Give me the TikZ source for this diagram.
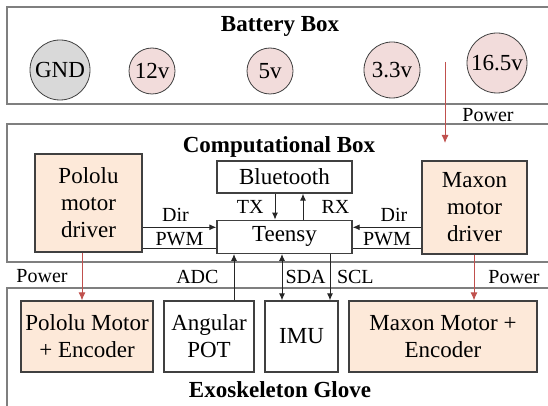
\documentclass[tikz,border=0pt]{standalone}
\usepackage{fontspec}
\setmainfont{Liberation Serif}
\usetikzlibrary{arrows.meta,positioning}
\definecolor{edgegray}{HTML}{404040}
\definecolor{framegray}{HTML}{7F7F7F}
\definecolor{peach}{HTML}{FDE9D9}
\definecolor{pinkpin}{HTML}{F2DCDB}
\definecolor{gndgray}{HTML}{D9D9D9}
\definecolor{pwrred}{HTML}{C0504D}
\definecolor{wireblack}{HTML}{262626}

\begin{document}
\begin{tikzpicture}[x=1pt,y=-1pt,
frame/.style={draw=framegray,line width=1.6pt,minimum width=563pt,inner sep=0pt},
title/.style={font=\fontsize{23}{27}\selectfont\bfseries},
box/.style={draw=edgegray,line width=1.3pt,align=center,inner sep=0pt,font=\fontsize{23}{27}\selectfont},
pin/.style={circle,draw=edgegray,line width=0.8pt,fill=pinkpin,inner sep=0pt,font=\fontsize{23}{27}\selectfont},
lbl/.style={inner sep=1pt,font=\fontsize{20}{23}\selectfont},
wire/.style={draw=wireblack,line width=1pt},
arr/.style={wire,-{Latex[length=7pt,width=6pt]}},
dbl/.style={wire,{Latex[length=7pt,width=6pt]}-{Latex[length=7pt,width=6pt]}},
pwr/.style={draw=pwrred,line width=0.9pt,-{Latex[length=8pt,width=7pt]}}]
\useasboundingbox (0,0) rectangle (548,406);
\clip (0,0) rectangle (548,406);
\node[frame,minimum height=97pt] (battery) at (288.5,55.5) {};
\node[title] (battitle) at (280,26) {Battery Box};
\node[pin,fill=gndgray,minimum size=60pt] (gnd) at (60,70) {GND};
\node[pin,minimum size=46pt] (v12) at (152,71) {12v};
\node[pin,minimum size=46pt] (v5) at (270,71) {5v};
\node[pin,minimum size=56pt] (v33) at (392,70) {3.3v};
\node[pin,minimum size=60pt] (v165) at (497,63) {16.5v};
\node[frame,minimum height=138pt] (comp) at (288.5,193) {};
\node[title] (comptitle) at (279,147) {Computational Box};
\node[box,fill=peach,minimum width=107pt,minimum height=98pt] (pdrv) at (88.5,203) {Pololu\\motor\\driver};
\node[box,fill=peach,minimum width=105pt,minimum height=93pt] (mdrv) at (474.5,207.5) {Maxon\\motor\\driver};
\node[box,minimum width=135pt,minimum height=32pt] (bt) at (284.5,177) {Bluetooth};
\node[box,minimum width=135pt,minimum height=33pt,below=26pt of bt] (teensy) {Teensy};
\node[frame,minimum height=132pt] (glove) at (288.5,354) {};
\node[title] (glovetitle) at (280,390) {Exoskeleton Glove};
\node[box,fill=peach,minimum width=132pt,minimum height=71pt] (pmot) at (87,336.5) {Pololu Motor\\+ Encoder};
\node[box,minimum width=90pt,minimum height=71pt] (pot) at (209,336.5) {Angular\\POT};
\node[box,minimum width=73pt,minimum height=71pt] (imu) at (301.5,336.5) {IMU};
\node[box,fill=peach,minimum width=188pt,minimum height=71pt] (mmot) at (443,336.5) {Maxon Motor +\\Encoder};
\coordinate (pwrtop) at (445,62);
\coordinate (pwrtip) at (445,143);
\draw[pwr] (pwrtop) -- (pwrtip) node[lbl,pos=0.65,right=16pt] {Power};
\draw[pwr] ([xshift=-6.5pt]pdrv.south) -- ([xshift=-6.5pt]pdrv.south |- pmot.north) node[lbl,midway,left=13pt] {Power};
\draw[pwr] ([xshift=-0.5pt]mdrv.south) -- ([xshift=-0.5pt]mdrv.south |- mmot.north) node[lbl,midway,right=13pt] {Power};
\draw[arr] ([xshift=-9.5pt]bt.south) -- ([xshift=-9.5pt]teensy.north) node[lbl,midway,left=10pt] {TX};
\draw[arr] ([xshift=18.5pt]teensy.north) -- ([xshift=18.5pt]bt.south) node[lbl,midway,right=17pt] {RX};
\draw[arr] ([yshift=9.5pt]teensy.west -| pdrv.east) -- ([yshift=9.5pt]teensy.west) node[lbl,midway,above=4pt,xshift=-4pt] {Dir};
\draw[wire] ([yshift=-11.5pt]teensy.west -| pdrv.east) -- ([yshift=-11.5pt]teensy.west) node[lbl,midway,above=1pt] {PWM};
\draw[arr] ([yshift=9.5pt]teensy.east -| mdrv.west) -- ([yshift=9.5pt]teensy.east) node[lbl,midway,above=4pt,xshift=7pt] {Dir};
\draw[wire] ([yshift=-11.5pt]teensy.east -| mdrv.west) -- ([yshift=-11.5pt]teensy.east) node[lbl,midway,above=1pt] {PWM};
\draw[arr] ([xshift=25pt]pot.north) -- ([xshift=25pt]pot.north |- teensy.south) node[lbl,midway,left=14pt] {ADC};
\draw[dbl] ([xshift=-2.5pt]teensy.south) -- ([xshift=-2.5pt]teensy.south |- imu.north) node[lbl,midway,right=2pt] {SDA};
\draw[arr] ([xshift=45.5pt]teensy.south) -- ([xshift=45.5pt]teensy.south |- imu.north) node[lbl,midway,right=5.5pt] {SCL};
\end{tikzpicture}
\end{document}
